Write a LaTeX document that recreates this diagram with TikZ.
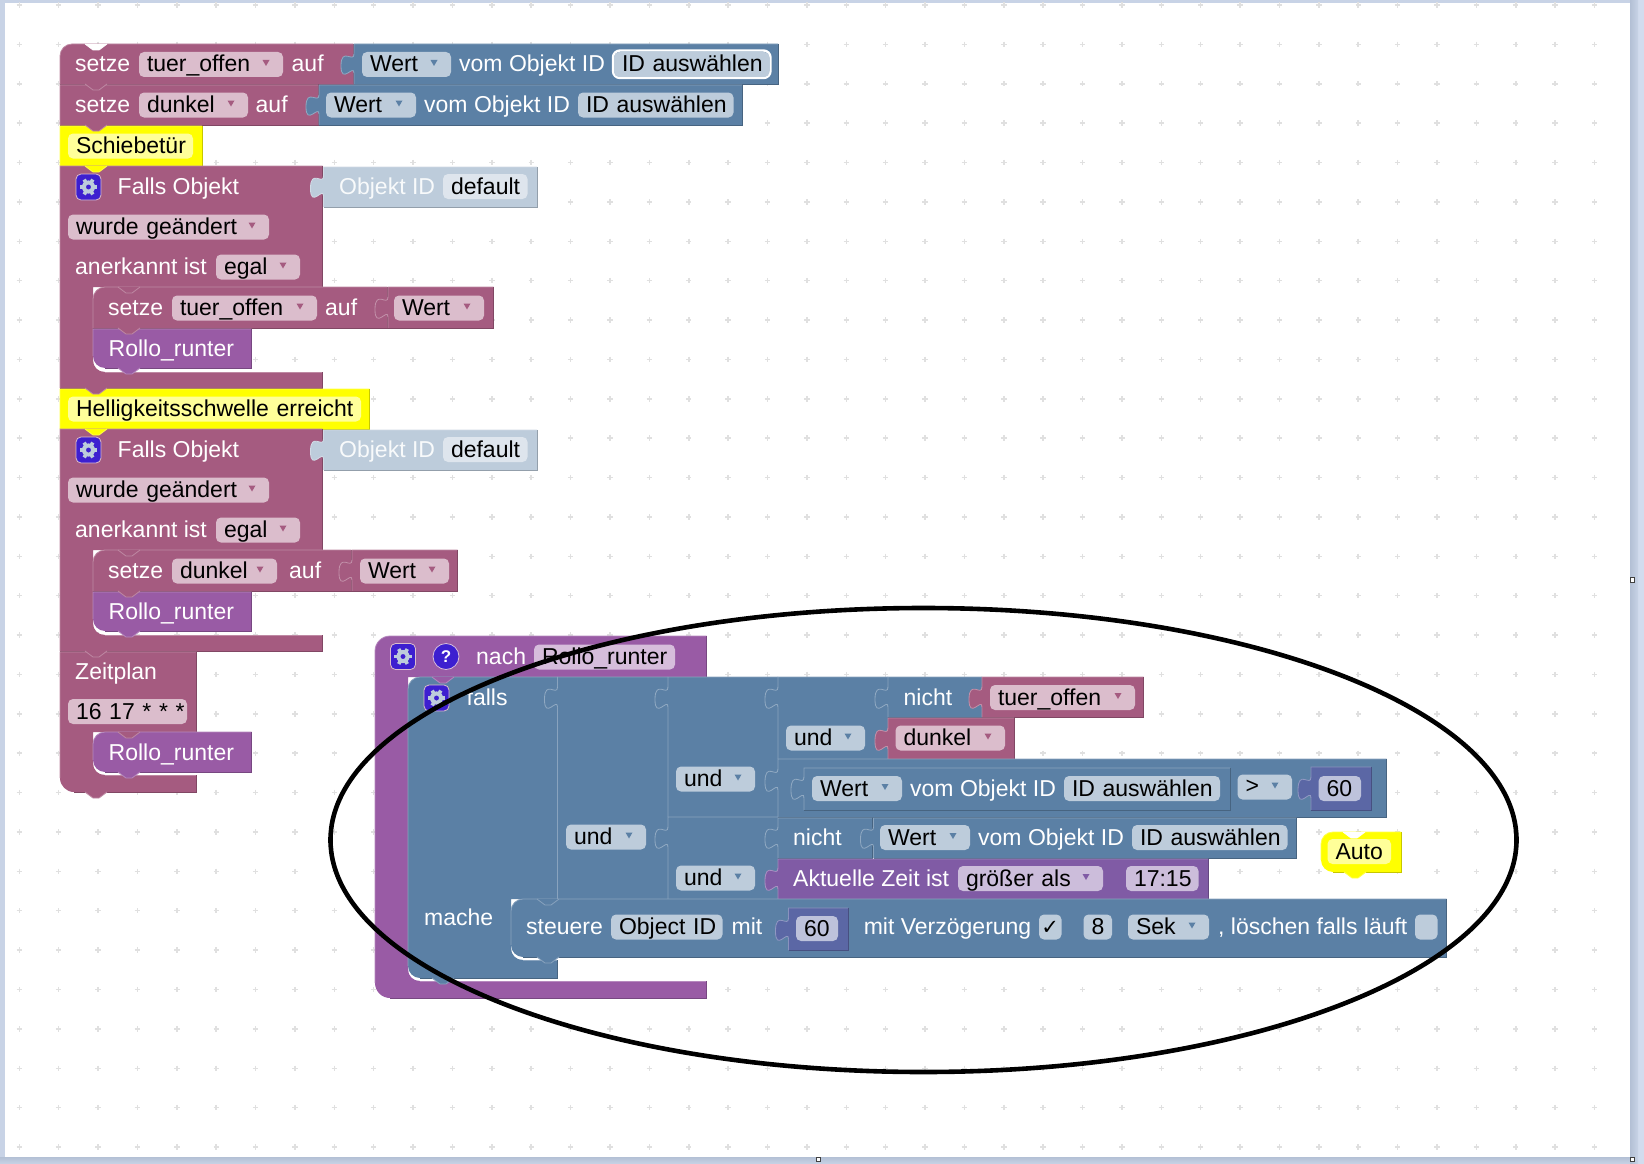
\documentclass[tikz,border=0pt]{standalone}
\usepackage{fontspec}
\setmainfont{Liberation Sans}
\newfontfamily\symfont{DejaVu Sans}
\usetikzlibrary{calc}
\definecolor{mar}{HTML}{A55B80}
\definecolor{blu}{HTML}{5B80A5}
\definecolor{pur}{HTML}{995BA5}
\definecolor{vio}{HTML}{805BA5}
\definecolor{num}{HTML}{5B67A5}
\definecolor{dis}{HTML}{BDCCDB}
\definecolor{yel}{HTML}{FFFF00}
\definecolor{fmar}{HTML}{DBBDCC}
\definecolor{fblu}{HTML}{BDCCDB}
\definecolor{fpur}{HTML}{D6BDDB}
\definecolor{fvio}{HTML}{CCBDDB}
\definecolor{fnum}{HTML}{BDC2DB}
\definecolor{fdis}{HTML}{DEE5ED}
\definecolor{fyel}{HTML}{FFFF99}
\definecolor{frameA}{HTML}{C8D3E6}
\definecolor{frameB}{HTML}{B3C0D5}
\definecolor{frameC}{HTML}{D2DCEE}
\definecolor{icon}{HTML}{3D1FD0}
\definecolor{griddot}{HTML}{E0E0E0}
\tikzset{
  every node/.style={font=\fontsize{23}{25}\selectfont},
  fieldbox/.style={rectangle,rounded corners=5pt,inner xsep=8pt,inner ysep=0pt,minimum height=25pt,
    text height=16pt,text depth=1pt,align=left,text=black},
  blocklabel/.style={inner sep=0pt,anchor=west,text height=16pt,text depth=1pt,text=white},
  edgeline/.style={line width=.8pt},
  handlebox/.style={draw=black!75,fill=white,line width=1pt}
}
% #1 name #2 x0 #3 x1 #4 yc #5 fill #6 text
\newcommand\pill[6]{%
  \pgfmathsetmacro\fldW{#3-#2}\pgfmathsetmacro\fldT{#3-#2-16}%
  \node[fieldbox,fill=#5,minimum width=\fldW pt,text width=\fldT pt] (#1) at ({(#2+#3)/2},#4) {\mbox{#6}};}
% #1 name #2 x0 #3 x1 #4 yc #5 fill #6 arrow #7 text
\newcommand\drop[7]{%
  \pill{#1}{#2}{#3}{#4}{#5}{#7}%
  \fill[#6] ({#3-20.5},{#4-4.5}) -- ({#3-13.5},{#4-4.5}) -- ({#3-17},{#4+1.5}) -- cycle;}
\newcommand\lab[4]{\node[blocklabel] (#1) at (#2,#3) {#4};}
\def\rtl{0.01}\def\rbl{0.01}
% #1 colour x0 y0 x1 y1
\newcommand\blk[5]{%
  \fill[#1] ({#2+\rtl},#3) -- (#4,#3) -- (#4,#5) -- ({#2+\rbl},#5)
    .. controls ({#2+.45*\rbl},#5) and (#2,{#5-.45*\rbl}) .. (#2,{#5-\rbl})
    -- (#2,{#3+\rtl}) .. controls (#2,{#3+.45*\rtl}) and ({#2+.45*\rtl},#3) .. ({#2+\rtl},#3) -- cycle;
  \draw[#1!72!white,edgeline] (#2,{#5-\rbl}) -- (#2,{#3+\rtl}) .. controls (#2,{#3+.45*\rtl}) and ({#2+.45*\rtl},#3) .. ({#2+\rtl},#3) -- (#4,#3);
  \draw[#1!78!black,edgeline] (#4,#3) -- (#4,#5) -- ({#2+\rbl},#5);}
% #1 colour x0 y0 x1 y1 xi y2 x2 y3
\newcommand\cblk[9]{%
  \fill[#1] ({#2+\rtl},#3) -- (#4,#3) -- (#4,#5) -- (#6,#5) -- (#6,{#7-12})
    .. controls (#6,{#7-5}) and ({#6+5},#7) .. ({#6+12},#7)
    -- (#8,#7) -- (#8,#9) -- ({#2+\rbl},#9)
    .. controls ({#2+.45*\rbl},#9) and (#2,{#9-.45*\rbl}) .. (#2,{#9-\rbl})
    -- (#2,{#3+\rtl}) .. controls (#2,{#3+.45*\rtl}) and ({#2+.45*\rtl},#3) .. ({#2+\rtl},#3) -- cycle;
  \draw[#1!72!white,edgeline] (#2,{#9-\rbl}) -- (#2,{#3+\rtl}) .. controls (#2,{#3+.45*\rtl}) and ({#2+.45*\rtl},#3) .. ({#2+\rtl},#3) -- (#4,#3);
  \draw[#1!72!white,edgeline] ({#6+12},#7) -- (#8,#7);
  \draw[#1!78!black,edgeline] (#4,#3) -- (#4,#5);
  \draw[#1!78!black,edgeline] (#8,#7) -- (#8,#9) -- ({#2+\rbl},#9);}
% #1 colour x y : notch/bump
\newcommand\bump[3]{%
  \fill[#1] (#2,#3) -- ({#2+8},{#3+6}) -- ({#2+14},{#3+6}) -- ({#2+22},#3) -- cycle;
  \draw[#1!72!white,edgeline] (#2,#3) -- ({#2+8},{#3+6}) -- ({#2+14},{#3+6}) -- ({#2+22},#3);}
% #1 colour x y0 y1 : puzzle tab pointing left (Blockly's curve)
\newcommand\puzzle[4]{%
  \pgfmathsetmacro\tabh{#4-#3}%
  \fill[#1] (#2,#3) .. controls (#2,{#3+.5*\tabh}) and ({#2-13},{#3-.4*\tabh}) .. ({#2-13},{#3+.625*\tabh})
     .. controls ({#2-13},{#3+1.65*\tabh}) and (#2,{#3+.5*\tabh}) .. (#2,#4) -- ({#2+1},#4) -- ({#2+1},#3) -- cycle;
  \draw[#1!68!white,edgeline] (#2,#3) .. controls (#2,{#3+.5*\tabh}) and ({#2-13},{#3-.4*\tabh}) .. ({#2-13},{#3+.625*\tabh})
     .. controls ({#2-13},{#3+1.65*\tabh}) and (#2,{#3+.5*\tabh}) .. (#2,#4);}
% #1 name #2 cx #3 cy
\newcommand\gearicon[3]{%
  \node[rectangle,rounded corners=5pt,fill=icon,draw=fmar,line width=.8pt,minimum width=25pt,minimum height=26pt,inner sep=0pt] (#1) at (#2,#3) {};
  \foreach \gearang in {0,60,...,300}{\draw[fblu,line width=3.6pt] ($(#1)+(\gearang:4.5pt)$) -- ($(#1)+(\gearang:8.6pt)$);}
  \fill[fblu,even odd rule] (#1) circle[radius=6.6pt] (#1) circle[radius=2.6pt];}
\begin{document}
\begin{tikzpicture}[x=1pt,y=-1pt]
\useasboundingbox (0,0) rectangle (1644,1164);
% page frame
\fill[frameA] (0,0) rectangle (1644,1164);
\fill[frameC] (1638,0) rectangle (1644,1164);
\shade[left color=frameB,right color=frameA] (1630,0) rectangle (1638,1164);
\shade[top color=frameB,bottom color=frameA] (0,1157) rectangle (1630,1164);
\fill[white] (5,3) rectangle (1630,1157);
% grid dots
\foreach \i in {0,...,40}{\foreach \j in {0,...,29}{
  \pgfmathsetmacro\dx{19.3+39.38*\i}\pgfmathsetmacro\dy{5+39.38*\j}
  \draw[griddot,line width=1.5pt] ({\dx-2.7},\dy) -- ({\dx+2.7},\dy) ({\dx},{\dy-2.7}) -- ({\dx},{\dy+2.7});}}
% ---------- row 1
\def\rtl{12}\blk{mar}{60}{44}{353}{84}\def\rtl{0.01}
\bump{white}{85}{44}
\lab{ra}{75}{64.5}{setze}
\drop{rb}{139}{283}{64.5}{fmar}{mar}{tuer\_offen}
\lab{rc}{291.5}{64.5}{auf}
\blk{blu}{354}{44}{778}{84}
\puzzle{blu}{354}{54}{73}
\drop{rd}{362}{451}{64.5}{fblu}{blu}{Wert}
\lab{re}{459}{64.5}{vom Objekt ID}
\draw[white,line width=2.4pt,rounded corners=7pt] (613,50.5) rectangle (770.5,78);
\pill{rf}{614}{769.5}{64.5}{fblu}{ID auswählen}
% ---------- row 2
\blk{mar}{60}{85}{318}{125}
\bump{mar}{85}{84}
\lab{sa}{75}{105}{setze}
\drop{sb}{139}{248}{105}{fmar}{mar}{dunkel}
\lab{sc}{255.5}{105}{auf}
\blk{blu}{319}{85}{742}{125}
\puzzle{blu}{319}{95}{114}
\drop{sd}{326}{416}{105}{fblu}{blu}{Wert}
\lab{se}{424}{105}{vom Objekt ID}
\pill{sf}{578}{733.5}{105}{fblu}{ID auswählen}
% ---------- Schiebetür
\blk{yel}{60}{126}{202}{166}
\bump{mar}{85}{125}
\pill{ta}{68}{193}{146}{fyel}{Schiebetür}
% ---------- Falls Objekt 1
\cblk{mar}{60}{166}{322.5}{287}{93}{372}{322.5}{388}
\bump{yel}{85}{166}
\gearicon{ua}{88.5}{187}
\lab{ub}{117.5}{186.5}{Falls Objekt}
\blk{dis}{323.5}{167}{537}{207}
\puzzle{dis}{323.5}{176}{196}
\node[blocklabel,text=white!90!dis] (uc) at (339,186.5) {Objekt ID};
\pill{ud}{443}{527.5}{186.5}{fdis}{default}
\drop{ue}{68}{269}{227}{fmar}{mar}{wurde geändert}
\lab{uf}{75}{267}{anerkannt ist}
\drop{ug}{216}{300}{267}{fmar}{mar}{egal}
\def\rtl{12}\blk{mar}{93}{287}{387}{328}\def\rtl{0.01}
\bump{mar}{118}{287}
\lab{uh}{108}{308}{setze}
\drop{ui}{172}{317}{308}{fmar}{mar}{tuer\_offen}
\lab{uj}{325}{308}{auf}
\blk{mar}{388}{287}{493.5}{328}
\puzzle{mar}{388}{297}{317}
\drop{uk}{394}{484}{308}{fmar}{mar}{Wert}
\def\rbl{12}\blk{pur}{93}{329}{251.5}{368}\def\rbl{0.01}
\bump{mar}{118}{328}
\lab{ul}{108.5}{348.5}{Rollo\_runter}
\bump{pur}{118}{368}
% ---------- Helligkeit
\blk{yel}{60}{389}{369.5}{429}
\bump{mar}{85}{388}
\pill{va}{68}{361}{409}{fyel}{Helligkeitsschwelle erreicht}
% ---------- Falls Objekt 2
\cblk{mar}{60}{429}{322.5}{550}{93}{635}{322.5}{651}
\bump{yel}{85}{429}
\gearicon{wa}{88.5}{450}
\lab{wb}{117.5}{449.5}{Falls Objekt}
\blk{dis}{323.5}{430}{537}{470}
\puzzle{dis}{323.5}{439}{459}
\node[blocklabel,text=white!90!dis] (wc) at (339,449.5) {Objekt ID};
\pill{wd}{443}{527.5}{449.5}{fdis}{default}
\drop{we}{68}{269}{490}{fmar}{mar}{wurde geändert}
\lab{wf}{75}{530}{anerkannt ist}
\drop{wg}{216}{300}{530}{fmar}{mar}{egal}
\def\rtl{12}\blk{mar}{93}{550}{351}{591}\def\rtl{0.01}
\bump{mar}{118}{550}
\lab{wh}{108}{571}{setze}
\drop{wi}{172}{277}{571}{fmar}{mar}{dunkel}
\lab{wj}{289}{571}{auf}
\blk{mar}{352}{550}{457.5}{591}
\puzzle{mar}{352}{560}{580}
\drop{wk}{360}{449}{571}{fmar}{mar}{Wert}
\def\rbl{12}\blk{pur}{93}{592}{251.5}{631}\def\rbl{0.01}
\bump{mar}{118}{591}
\lab{wl}{108.5}{611.5}{Rollo\_runter}
\bump{pur}{118}{631}
% ---------- Zeitplan
\def\rbl{14}\cblk{mar}{60}{652}{196.5}{732}{93}{775}{196.5}{792}\def\rbl{0.01}
\bump{mar}{85}{651}
\lab{xa}{75}{671.5}{Zeitplan}
\pill{xb}{68}{187}{711.5}{fmar}{16 17 * * *}
\def\rtl{12}\def\rbl{12}\blk{pur}{93}{732}{251.5}{772}\def\rtl{0.01}\def\rbl{0.01}
\bump{mar}{118}{732}
\lab{xc}{108.5}{752.5}{Rollo\_runter}
\bump{pur}{118}{772}
\bump{mar}{85}{792}
% ---------- nach Rollo_runter
\def\rtl{15}\def\rbl{15}\cblk{pur}{375}{636}{706.5}{677}{408}{981}{706.5}{998}\def\rtl{0.01}\def\rbl{0.01}
\gearicon{ya}{403}{656.5}
\node[circle,fill=icon,draw=fpur,line width=.8pt,minimum size=26pt,inner sep=0pt,text=white,font=\fontsize{17}{17}\bfseries\selectfont] (yb) at (446,656.5) {?};
\lab{yc}{476}{657}{nach}
\pill{yd}{534}{675}{657}{fpur}{Rollo\_runter}
% ---------- falls
\def\rtl{12}\def\rbl{12}\cblk{blu}{408}{677}{557.5}{899}{511}{960}{557.5}{978}\def\rtl{0.01}\def\rbl{0.01}
\bump{pur}{432}{677}
\gearicon{za}{436.5}{698}
\lab{zb}{466.5}{697.5}{falls}
\lab{zc}{424}{918}{mache}
% logic columns
\blk{blu}{557.5}{677}{668}{899}
\puzzle{blu}{557.5}{687}{707}
\drop{zd}{566}{646}{837}{fblu}{blu}{und}
\blk{blu}{668}{677}{778}{817}
\puzzle{blu}{668}{687}{707}
\drop{ze}{676}{755}{779}{fblu}{blu}{und}
\blk{blu}{778}{677}{888}{759}
\puzzle{blu}{778}{687}{707}
\drop{zf}{786}{865}{738}{fblu}{blu}{und}
% nicht / tuer_offen
\blk{blu}{888}{677}{982}{717}
\puzzle{blu}{888}{687}{707}
\lab{zg}{903.5}{697.5}{nicht}
\blk{mar}{982}{677}{1143.5}{717}
\puzzle{mar}{982}{687}{707}
\drop{zh}{990}{1135}{697.5}{fmar}{mar}{tuer\_offen}
% dunkel
\blk{mar}{888}{718}{1014}{759}
\puzzle{mar}{888}{728}{749}
\drop{zi}{895.5}{1005}{738}{fmar}{mar}{dunkel}
% Wert > 60
\blk{blu}{778}{759}{1386.5}{817}
\puzzle{blu}{778}{769}{790}
\blk{blu}{804}{768}{1230}{810}
\puzzle{blu}{804}{777}{798}
\drop{zj}{812}{902}{788.5}{fblu}{blu}{Wert}
\lab{zk}{910}{788.5}{vom Objekt ID}
\pill{zl}{1064}{1220}{788.5}{fblu}{ID auswählen}
\node[fieldbox,fill=fblu,minimum width=54.5pt,text width=38.5pt] (zm) at (1264.75,787) {\raisebox{1pt}{>}};
\fill[blu] (1271.5,782.5) -- (1278.5,782.5) -- (1275,788.5) -- cycle;
\blk{num}{1311}{767}{1371}{810}
\puzzle{num}{1311}{777}{798}
\pill{zn}{1318.6}{1361}{788.5}{fnum}{60}
% lower und
\blk{blu}{668}{817}{778}{899}
\puzzle{blu}{668}{827}{847}
\drop{zo}{676}{755}{878}{fblu}{blu}{und}
\blk{blu}{778}{818}{872.5}{858}
\puzzle{blu}{778}{827}{847}
\lab{zp}{793}{837.5}{nicht}
\blk{blu}{873.5}{818}{1296.5}{858}
\puzzle{blu}{873.5}{827}{847}
\drop{zq}{880}{970}{837.5}{fblu}{blu}{Wert}
\lab{zr}{978}{837.5}{vom Objekt ID}
\pill{zs}{1132}{1287.5}{837.5}{fblu}{ID auswählen}
\blk{vio}{778}{859}{1208}{899}
\puzzle{vio}{778}{868}{889}
\lab{zt}{793}{878.5}{Aktuelle Zeit ist}
\drop{zu}{958}{1103}{878.5}{fvio}{vio}{größer als}
\pill{zv}{1126}{1198.5}{878.5}{fvio}{17:15}
% steuere
\def\rtl{12}\def\rbl{12}\blk{blu}{511}{899}{1446.5}{957}\def\rtl{0.01}\def\rbl{0.01}
\bump{blu}{537}{899}
\lab{aa}{526}{927}{steuere}
\pill{ab}{611}{722.5}{927}{fblu}{Object ID}
\lab{ac}{731.5}{927}{mit}
\blk{num}{788.5}{908}{848}{950}
\puzzle{num}{788.5}{918}{939}
\pill{ad}{796}{838}{928.5}{fnum}{60}
\lab{ae}{863.6}{927}{mit Verzögerung}
\node[fieldbox,fill=fblu,inner xsep=0pt,minimum width=22.5pt,text width=22.5pt,align=center,font=\symfont\fontsize{21}{23}\selectfont] (af) at (1050.25,927) {✓};
\pill{ag}{1083.5}{1112}{927}{fblu}{8}
\drop{ah}{1128}{1209}{927}{fblu}{blu}{Sek}
\lab{ai}{1218}{927}{, löschen falls läuft}
\pill{aj}{1415}{1437.5}{927}{fblu}{}
\bump{blu}{537}{957}
\bump{blu}{432}{978}
% Auto comment
\def\rtl{12}\def\rbl{12}\blk{yel}{1321}{832}{1401}{872}\def\rtl{0.01}\def\rbl{0.01}
\bump{white}{1343}{832}
\bump{yel}{1344}{872}
\pill{ak}{1327.5}{1391}{851.5}{fyel}{Auto}
% hand-drawn ellipse
\draw[black,line width=4.6pt] (923.5,840) ellipse [x radius=593,y radius=232];
% selection handles
\node[handlebox,minimum size=4.5pt,inner sep=0pt] (h1) at (1632.5,580) {};
\node[handlebox,minimum size=4.5pt,inner sep=0pt] (h2) at (818.5,1159.5) {};
\node[handlebox,minimum size=4.5pt,inner sep=0pt] (h3) at (1632.5,1159.5) {};
\end{tikzpicture}
\end{document}
